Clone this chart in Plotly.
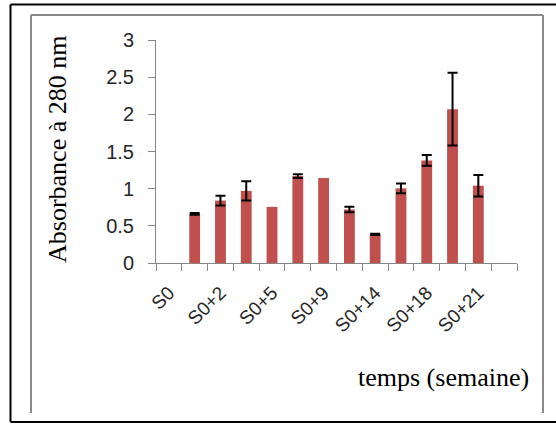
import plotly.graph_objects as go

# ---- data ----
# 14 category slots; only every other slot carries a visible label
label_slots = [0, 2, 4, 6, 8, 10, 12]
labels = ["S0", "S0+2", "S0+5", "S0+9", "S0+14", "S0+18", "S0+21"]
slots = list(range(14))
absorbance = [None, 0.66, 0.84, 0.97, 0.755, 1.17, 1.145, 0.72, 0.385, 1.005, 1.38, 2.07, 1.04, None]
errors = [None, 0.012, 0.065, 0.13, None, 0.025, None, 0.038, 0.008, 0.065, 0.072, 0.49, 0.145, None]

W, H = 556, 424
L, R, T, B = 156, 39, 40, 161
PW, PH = W - L - R, H - T - B


def px(p):
    return (p - L) / PW


def py(p):
    return (H - B - p) / PH


fig = go.Figure()
fig.add_trace(go.Bar(
    x=slots, y=absorbance, width=0.42,
    marker=dict(color="#C0504D", line=dict(width=0)),
    xaxis="x", yaxis="y", showlegend=False,
))

# error bars only where an error exists
err_x = [s for s, e in zip(slots, errors) if e is not None]
err_y = [v for v, e in zip(absorbance, errors) if e is not None]
err_e = [e for e in errors if e is not None]
fig.add_trace(go.Scatter(
    x=err_x, y=err_y, mode="markers",
    marker=dict(size=1, color="rgba(0,0,0,0)"),
    error_y=dict(type="data", array=err_e, color="black", thickness=2, width=5),
    xaxis="x", yaxis="y", showlegend=False, hoverinfo="skip",
))

grey = "#878787"
fig.update_layout(
    width=W, height=H,
    margin=dict(l=L, r=R, t=T, b=B),
    paper_bgcolor="white", plot_bgcolor="white",
    xaxis=dict(
        range=[-0.5, 13.5], showgrid=False, zeroline=False,
        showline=True, linecolor=grey, linewidth=1,
        tickmode="array", tickvals=[s - 0.5 for s in slots] + [13.5],
        ticks="outside", ticklen=7, tickcolor=grey, showticklabels=False,
    ),
    xaxis2=dict(
        overlaying="x", anchor="y", side="bottom", matches="x",
        range=[-0.5, 13.5], showgrid=False, zeroline=False, showline=False,
        tickmode="array", tickvals=label_slots, ticktext=labels,
        ticks="", tickangle=-45, ticklabelstandoff=14,
        tickfont=dict(family="Liberation Sans", size=19, color="#262626"),
    ),
    yaxis=dict(
        range=[0, 3], dtick=0.5, showgrid=False, zeroline=False,
        showline=True, linecolor=grey, linewidth=1,
        ticks="outside", ticklen=7, tickcolor=grey, ticklabelstandoff=10,
        tickfont=dict(family="Liberation Sans", size=20, color="#262626"),
    ),
    bargap=0.58,
)

# invisible trace so the label axis is drawn
fig.add_trace(go.Scatter(x=[label_slots[0]], y=[None], xaxis="x2", yaxis="y",
                         mode="markers", showlegend=False, hoverinfo="skip"))

fig.add_annotation(text="Absorbance à 280 nm", textangle=-90,
                   xref="paper", yref="paper", x=px(57), y=py(150),
                   showarrow=False, xanchor="center", yanchor="middle",
                   font=dict(family="Liberation Serif", size=26, color="black"))
fig.add_annotation(text="temps (semaine)",
                   xref="paper", yref="paper", x=px(443), y=py(377),
                   showarrow=False, xanchor="center", yanchor="middle",
                   font=dict(family="Liberation Serif", size=26, color="black"))

shapes = []
# inner grey frame (open at the bottom)
for x0, y0, x1, y1 in [(31, 15, 31, 413), (31, 15, 543, 15), (543, 15, 543, 413)]:
    shapes.append(dict(type="line", xref="paper", yref="paper",
                       x0=px(x0), y0=py(y0), x1=px(x1), y1=py(y1),
                       line=dict(color="#8a8a8a", width=2)))
# outer black frame (right side beyond the picture)
for x0, y0, x1, y1 in [(10.5, 4.5, 10.5, 422), (10.5, 4.5, 600, 4.5), (10.5, 422, 600, 422)]:
    shapes.append(dict(type="line", xref="paper", yref="paper",
                       x0=px(x0), y0=py(y0), x1=px(x1), y1=py(y1),
                       line=dict(color="black", width=2)))
fig.update_layout(shapes=shapes)

fig.write_html("out.html")
